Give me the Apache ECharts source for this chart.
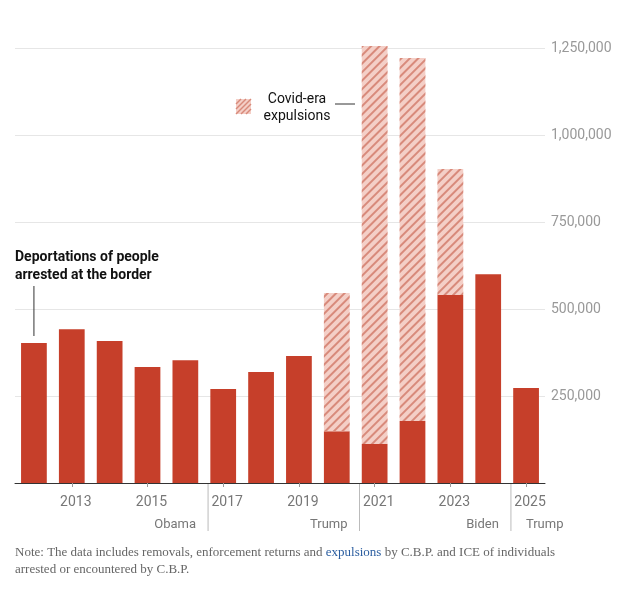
<!DOCTYPE html><html><head><meta charset="utf-8"><script src="https://cdn.jsdelivr.net/npm/echarts@6/dist/echarts.min.js"></script>
<style>body{margin:0}#c{width:631px;height:591px}</style></head><body><div id="c"></div><script>
const years=['2012','2013','2014','2015','2016','2017','2018','2019','2020','2021','2022','2023','2024','2025'];
const deportations=[402000,442000,408000,333000,353000,270000,319000,365000,149000,112000,178000,540000,600000,273000];
const expulsions=[0,0,0,0,0,0,0,0,397000,1144000,1043000,362000,0,0];
const yTicks=[250000,500000,750000,1000000,1250000];
const presidents=[{name:'Obama',sep:0,right:true},{name:'Trump',sep:1,right:true},{name:'Biden',sep:2,right:true},{name:'Trump',sep:2,right:false}];
const separators=[4.6,8.6,12.6];
const ch=echarts.init(document.getElementById('c'));
ch.setOption({animation:false,
grid:{left:15,right:86,top:48,bottom:108},
xAxis:{type:'category',data:years,axisLine:{lineStyle:{color:'#333'}},
 axisTick:{show:true,alignWithLabel:true,interval:(i)=>i%2===1,length:4,lineStyle:{color:'#999'}},
 axisLabel:{interval:0,formatter:v=>(+v)%2?v:'',color:'#777',fontSize:14,fontFamily:'Roboto',margin:12,padding:[0,0,0,8]}},
yAxis:{type:'value',position:'right',min:0,max:1250000,interval:250000,
 axisLabel:{formatter:v=>v?v.toLocaleString('en-US'):'',color:'#999',fontSize:14,fontFamily:'Roboto',margin:6},
 splitLine:{lineStyle:{color:'#e6e6e6'}}},
series:[
{type:'bar',stack:'a',data:deportations,barCategoryGap:'32%',clip:false,itemStyle:{color:'#c63f2a'}},
{type:'bar',stack:'a',data:expulsions,clip:false,itemStyle:{color:'#f4cfc7',decal:{symbol:'rect',rotation:-Math.PI/4,dashArrayX:[1,0],dashArrayY:[2,4],color:'#d88a7b',symbolSize:1}}}
]});
const base=ch.convertToPixel({gridIndex:0},[0,0]);
const px=i=>ch.convertToPixel({xAxisIndex:0},i);
const sepX=separators.map(s=>{const f=Math.floor(s);return px(f)+(px(f+1)-px(f))*(s-f);});
const g=[];
sepX.forEach(x=>g.push({type:'line',shape:{x1:x,y1:base[1],x2:x,y2:base[1]+48},style:{stroke:'#bbb',lineWidth:1}}));
presidents.forEach(p=>{const x=sepX[p.sep]+(p.right?-12:15);
 g.push({type:'text',x:x,y:base[1]+35,style:{text:p.name,fill:'#777',font:'13px Roboto',textAlign:p.right?'right':'left'}});});
const x12=px(0);
g.push({type:'text',left:15,top:248,style:{text:'Deportations of people\narrested at the border',fill:'#111',font:'bold 14px Roboto',lineHeight:18}});
g.push({type:'line',shape:{x1:x12,y1:286,x2:x12,y2:336},style:{stroke:'#333',lineWidth:1}});
g.push({type:'rect',shape:{x:236,y:99,width:15,height:15},style:{fill:'#f4cfc7'}});
for(let i=0;i<4;i++)g.push({type:'line',shape:{x1:236+i*5,y1:114,x2:Math.min(251,236+i*5+15),y2:114-Math.min(15,15-i*5)},style:{stroke:'#d88a7b',lineWidth:1.5}});
for(let i=1;i<3;i++)g.push({type:'line',shape:{x1:236,y1:114-i*5,x2:236+15-i*5,y2:99},style:{stroke:'#d88a7b',lineWidth:1.5}});
g.push({type:'text',x:297,y:91,style:{text:'Covid-era\nexpulsions',fill:'#111',font:'14px Roboto',textAlign:'center',lineHeight:17}});
g.push({type:'line',shape:{x1:335,y1:104,x2:355,y2:104},style:{stroke:'#333',lineWidth:1}});
g.push({type:'text',left:15,top:546,style:{rich:{a:{fill:'#666',font:'13px "Liberation Serif"',lineHeight:17},u:{fill:'#2a5d9f',font:'13px "Liberation Serif"',textDecoration:'underline'}},text:'{a|Note: The data includes removals, enforcement returns and }{u|expulsions}{a| by C.B.P. and ICE of individuals}\n{a|arrested or encountered by C.B.P.}'}});
ch.setOption({graphic:g});
</script></body></html>
